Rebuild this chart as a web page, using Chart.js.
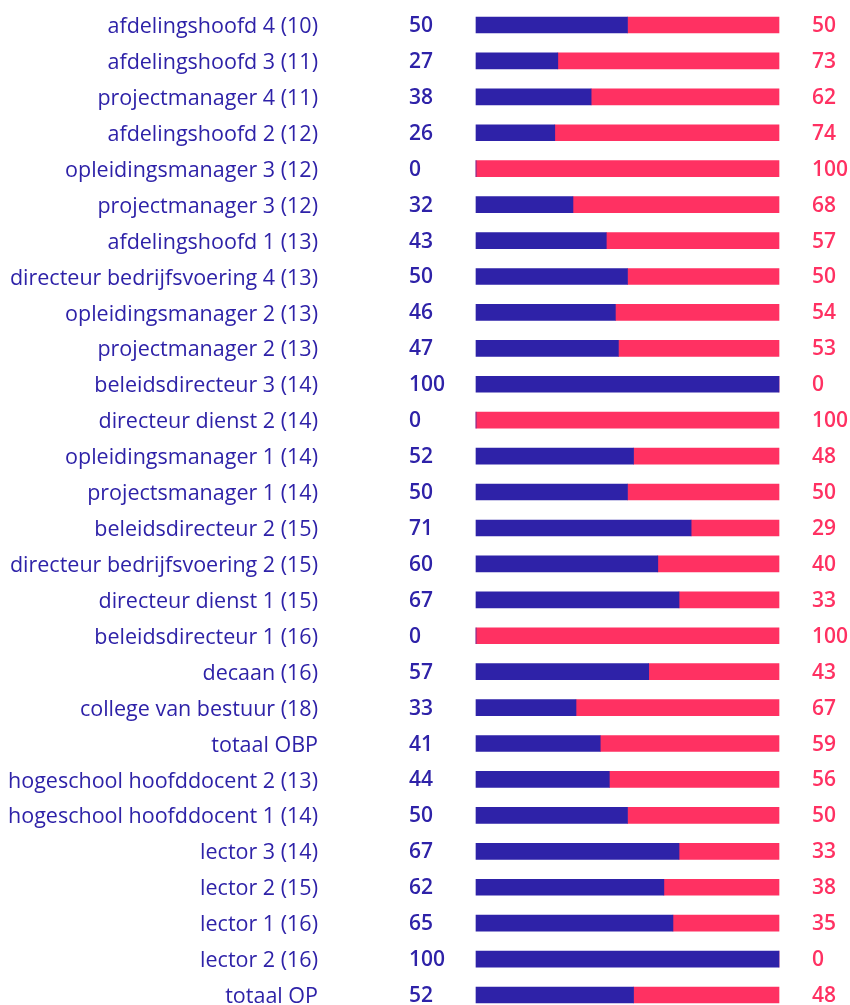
<!DOCTYPE html>
<html>
<head>
<meta charset="utf-8">
<script src="https://cdn.jsdelivr.net/npm/chart.js@4"></script>
<style>
  html, body { margin: 0; padding: 0; background: #fff; overflow: hidden; }
  #wrap { position: relative; width: 850px; height: 1005px; }
</style>
</head>
<body>
<div id="wrap"><canvas id="myBarChart"></canvas></div>
<script>
const labels = [
  "afdelingshoofd 4 (10)", "afdelingshoofd 3 (11)", "projectmanager 4 (11)",
  "afdelingshoofd 2 (12)", "opleidingsmanager 3 (12)", "projectmanager 3 (12)",
  "afdelingshoofd 1 (13)", "directeur bedrijfsvoering 4 (13)", "opleidingsmanager 2 (13)",
  "projectmanager 2 (13)", "beleidsdirecteur 3 (14)", "directeur dienst 2 (14)",
  "opleidingsmanager 1 (14)", "projectsmanager 1 (14)", "beleidsdirecteur 2 (15)",
  "directeur bedrijfsvoering 2 (15)", "directeur dienst 1 (15)", "beleidsdirecteur 1 (16)",
  "decaan (16)", "college van bestuur (18)", "totaal OBP",
  "hogeschool hoofddocent 2 (13)", "hogeschool hoofddocent 1 (14)", "lector 3 (14)",
  "lector 2 (15)", "lector 1 (16)", "lector 2 (16)", "totaal OP"
];
const blueValues = [50, 27, 38, 26, 0, 32, 43, 50, 46, 47, 100, 0, 52, 50, 71, 60, 67, 0, 57, 33, 41, 44, 50, 67, 62, 65, 100, 52];
const pinkValues = [50, 73, 62, 74, 100, 68, 57, 50, 54, 53, 0, 100, 48, 50, 29, 40, 33, 100, 43, 67, 59, 56, 50, 33, 38, 35, 0, 48];

const BLUE = "#2e22a8";
const PINK = "#ff3162";
const FONT = "'Open Sans', sans-serif";

// numbers left and right of each bar
const valueLabelPlugin = {
  id: "valueLabels",
  afterDatasetsDraw(chart) {
    const { ctx } = chart;
    const yScale = chart.scales.y;
    ctx.save();
    ctx.font = `600 21px ${FONT}`;
    ctx.textAlign = "left";
    ctx.textBaseline = "middle";
    labels.forEach((l, i) => {
      const y = yScale.getPixelForValue(i) + 1;
      ctx.fillStyle = BLUE;
      ctx.fillText(String(blueValues[i]), 409, y);
      ctx.fillStyle = PINK;
      ctx.fillText(String(pinkValues[i]), 812, y);
    });
    ctx.restore();
  },
};

const barCtx = document.getElementById("myBarChart").getContext("2d");
const myBarChart = new Chart(barCtx, {
  type: "bar",
  data: {
    labels: labels,
    datasets: [
      { data: blueValues, backgroundColor: BLUE, barThickness: 16, clip: false },
      { data: pinkValues, backgroundColor: PINK, barThickness: 16, clip: false },
    ],
  },
  options: {
    indexAxis: "y",
    responsive: true,
    maintainAspectRatio: false,
    animation: false,
    layout: {
      padding: { top: 25, bottom: 10, left: 0, right: 71 },
    },
    scales: {
      x: {
        stacked: true,
        min: 0,
        max: 100,
        display: false,
      },
      y: {
        stacked: true,
        offset: false,
        border: { display: false },
        grid: { display: false, drawTicks: false },
        ticks: {
          padding: 158,
          labelOffset: 2,
          color: BLUE,
          autoSkip: false,
          font: { family: FONT, size: 21.5 },
        },
        afterFit(scale) {
          scale.width = 476;
          scale.paddingTop = 0;
          scale.paddingBottom = 0;
        },
      },
    },
    plugins: {
      legend: { display: false },
      tooltip: { enabled: false },
    },
  },
  plugins: [valueLabelPlugin],
});
</script>
</body>
</html>
